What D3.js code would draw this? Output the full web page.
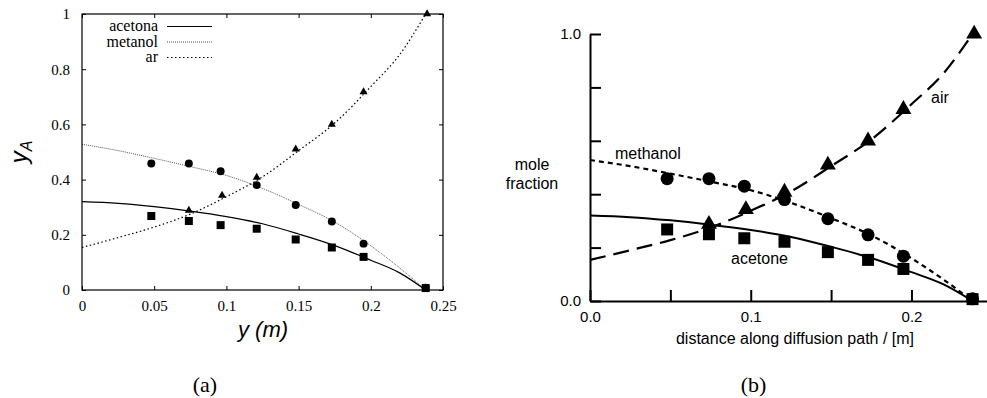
<!DOCTYPE html>
<html>
<head>
<meta charset="utf-8">
<script src="https://cdn.jsdelivr.net/npm/d3@7"></script>
<style>
    body { margin: 0; background: white; }
    svg { display: block; }
</style>
</head>
<body>
<svg id="chart" width="987" height="398"></svg>
<script>
// fitted model curves
const curveX = [0, 0.025, 0.05, 0.075, 0.1, 0.125, 0.15, 0.175, 0.2, 0.22, 0.238]
const acetoneCurve = [0.32, 0.314, 0.302, 0.286, 0.266, 0.24, 0.203, 0.161, 0.108, 0.062, 0]
const methanolCurve = [0.528, 0.505, 0.477, 0.447, 0.415, 0.368, 0.31, 0.246, 0.16, 0.08, 0]
const airCurve = [0.154, 0.19, 0.228, 0.275, 0.338, 0.41, 0.505, 0.605, 0.737, 0.853, 1.0]

// measured points
const pointX = [0.048, 0.074, 0.096, 0.121, 0.148, 0.173, 0.195, 0.238]
const acetonePts = [0.268, 0.25, 0.235, 0.222, 0.183, 0.154, 0.12, 0.007]
const methanolPts = [0.458, 0.458, 0.43, 0.38, 0.308, 0.248, 0.168, 0.008]
const airX = [0.074, 0.097, 0.121, 0.148, 0.173, 0.195, 0.239]
const airPts = [0.288, 0.343, 0.408, 0.51, 0.6, 0.718, 1.0]

// tick values and labels
const lxTicks = [0, 0.05, 0.1, 0.15, 0.2, 0.25]
const lxTickLabels = ['0', '0.05', '0.1', '0.15', '0.2', '0.25']
const lyTicks = [0, 0.2, 0.4, 0.6, 0.8, 1]
const lyTickLabels = ['0', '0.2', '0.4', '0.6', '0.8', '1']
const rxTicks = [0, 0.05, 0.1, 0.15, 0.2]
const rxTickLabels = ['0.0', '', '0.1', '', '0.2']
const ryTicks = [0, 0.2, 0.4, 0.6, 0.8, 1]
const ryTickLabels = ['0.0', '', '', '', '', '1.0']

const legendNames = ['acetona', 'metanol', 'ar']

let lxScale, lyScale, rxScale, ryScale

const serif = '"Liberation Serif", "Times New Roman", serif'
const sans = '"Liberation Sans", Arial, sans-serif'

function createScales() {
    lxScale = d3.scaleLinear().domain([0, 0.25]).range([82, 443])
    lyScale = d3.scaleLinear().domain([0, 1]).range([290, 14])
    rxScale = d3.scaleLinear().domain([0, 0.247]).range([590, 987])
    ryScale = d3.scaleLinear().domain([0, 1]).range([301, 34])
}

function zip(xs, ys) {
    return xs.map((x, i) => ({x: x, y: ys[i]}))
}

function drawLeft(svg) {
    let g = svg.append('g').attr('class', 'left')

    let line = d3.line()
        .x(d => lxScale(d.x))
        .y(d => lyScale(d.y))
        .curve(d3.curveMonotoneX)

    const leftStyles = [
        {stroke: 'black', width: 1.2, dash: null},
        {stroke: '#555', width: 1, dash: '1,1'},
        {stroke: 'black', width: 1.2, dash: '1.5,2.5'}
    ]
    const curves = [acetoneCurve, methanolCurve, airCurve]

    curves.forEach((c, i) => {
        g.append('path')
            .datum(zip(curveX, c))
            .attr('d', line)
            .attr('fill', 'none')
            .attr('stroke', leftStyles[i].stroke)
            .attr('stroke-width', leftStyles[i].width)
            .attr('stroke-dasharray', leftStyles[i].dash)
    })

    // markers
    g.selectAll('.sq').data(zip(pointX, acetonePts)).enter().append('path')
        .attr('d', d3.symbol().type(d3.symbolSquare).size(64))
        .attr('transform', d => `translate(${lxScale(d.x)},${lyScale(d.y)})`)
    g.selectAll('.ci').data(zip(pointX, methanolPts)).enter().append('path')
        .attr('d', d3.symbol().type(d3.symbolCircle).size(50))
        .attr('transform', d => `translate(${lxScale(d.x)},${lyScale(d.y)})`)
    g.selectAll('.tr').data(zip(airX, airPts)).enter().append('path')
        .attr('d', d3.symbol().type(d3.symbolTriangle).size(28))
        .attr('transform', d => `translate(${lxScale(d.x)},${lyScale(d.y)})`)

    // axes, ticks inward on all four sides
    let xAxis = d3.axisBottom(lxScale).tickValues(lxTicks)
        .tickFormat((d, i) => lxTickLabels[i]).tickSizeInner(-4).tickSizeOuter(0).tickPadding(10)
    let yAxis = d3.axisLeft(lyScale).tickValues(lyTicks)
        .tickFormat((d, i) => lyTickLabels[i]).tickSizeInner(-4).tickSizeOuter(0).tickPadding(12)
    let xTop = d3.axisTop(lxScale).tickValues(lxTicks).tickFormat('').tickSizeInner(-4).tickSizeOuter(0)
    let yRight = d3.axisRight(lyScale).tickValues(lyTicks).tickFormat('').tickSizeInner(-4).tickSizeOuter(0)

    g.append('g').attr('transform', `translate(0,${lyScale(0)})`).call(xAxis)
    g.append('g').attr('transform', `translate(${lxScale(0)},0)`).call(yAxis)
    g.append('g').attr('transform', `translate(0,${lyScale(1)})`).call(xTop)
    g.append('g').attr('transform', `translate(${lxScale(0.25)},0)`).call(yRight)

    g.selectAll('.domain').remove()
    g.append('rect')
        .attr('x', lxScale(0)).attr('y', lyScale(1))
        .attr('width', lxScale(0.25) - lxScale(0))
        .attr('height', lyScale(0) - lyScale(1))
        .attr('fill', 'none').attr('stroke', 'black').attr('stroke-width', 1.2)

    g.selectAll('.tick text')
        .attr('font-family', serif).attr('font-size', 15).attr('fill', 'black')
    g.selectAll('.tick line').attr('stroke', 'black')

    // legend
    legendNames.forEach((name, i) => {
        let ly = 26.5 + i * 15.5
        g.append('text')
            .attr('x', 158).attr('y', ly + 4.5)
            .attr('text-anchor', 'end')
            .attr('font-family', serif).attr('font-size', 16)
            .text(name)
        g.append('line')
            .attr('x1', 167).attr('x2', 212)
            .attr('y1', ly).attr('y2', ly)
            .attr('stroke', leftStyles[i].stroke)
            .attr('stroke-width', leftStyles[i].width)
            .attr('stroke-dasharray', leftStyles[i].dash)
    })

    // axis titles
    let yl = g.append('text')
        .attr('transform', 'translate(27,152) rotate(-90)')
        .attr('text-anchor', 'middle')
        .attr('font-family', sans).attr('font-style', 'italic')
    yl.append('tspan').attr('font-size', 24).text('y')
    yl.append('tspan').attr('font-size', 16).attr('dy', 5).text('A')

    g.append('text')
        .attr('x', 263).attr('y', 337)
        .attr('text-anchor', 'middle')
        .attr('font-family', sans).attr('font-style', 'italic').attr('font-size', 22)
        .text('y (m)')

    g.append('text')
        .attr('x', 205).attr('y', 392)
        .attr('text-anchor', 'middle')
        .attr('font-family', serif).attr('font-size', 22)
        .text('(a)')
}

function drawRight(svg) {
    let g = svg.append('g').attr('class', 'right')

    let line = d3.line()
        .x(d => rxScale(d.x))
        .y(d => ryScale(d.y))
        .curve(d3.curveMonotoneX)

    const rightStyles = [
        {width: 2, dash: null},
        {width: 2.2, dash: '5,4'},
        {width: 2.2, dash: '16,8'}
    ]
    const curves = [acetoneCurve, methanolCurve, airCurve]

    curves.forEach((c, i) => {
        g.append('path')
            .datum(zip(curveX, c))
            .attr('d', line)
            .attr('fill', 'none')
            .attr('stroke', 'black')
            .attr('stroke-width', rightStyles[i].width)
            .attr('stroke-dasharray', rightStyles[i].dash)
    })

    g.selectAll('.sq').data(zip(pointX, acetonePts)).enter().append('path')
        .attr('d', d3.symbol().type(d3.symbolSquare).size(144))
        .attr('transform', d => `translate(${rxScale(d.x)},${ryScale(d.y)})`)
    g.selectAll('.ci').data(zip(pointX, methanolPts)).enter().append('path')
        .attr('d', d3.symbol().type(d3.symbolCircle).size(133))
        .attr('transform', d => `translate(${rxScale(d.x)},${ryScale(d.y)})`)
    g.selectAll('.tr').data(zip(airX, airPts)).enter().append('path')
        .attr('d', d3.symbol().type(d3.symbolTriangle).size(110))
        .attr('transform', d => `translate(${rxScale(d.x)},${ryScale(d.y)})`)

    let xAxis = d3.axisBottom(rxScale).tickValues(rxTicks)
        .tickFormat((d, i) => rxTickLabels[i]).tickSizeInner(-11).tickSizeOuter(0).tickPadding(10)
    let yAxis = d3.axisLeft(ryScale).tickValues(ryTicks)
        .tickFormat((d, i) => ryTickLabels[i]).tickSizeInner(-11).tickSizeOuter(0).tickPadding(9)

    g.append('g').attr('transform', `translate(0,${ryScale(0)})`).call(xAxis)
    g.append('g').attr('transform', `translate(${rxScale(0)},0)`).call(yAxis)

    g.selectAll('.domain').attr('stroke', 'black').attr('stroke-width', 2)
    g.selectAll('.tick line').attr('stroke', 'black').attr('stroke-width', 2)
    g.selectAll('.tick text')
        .attr('font-family', sans).attr('font-size', 15).attr('fill', 'black')

    // labels
    const labels = [
        {t: 'mole', x: 532, y: 170, a: 'middle'},
        {t: 'fraction', x: 532, y: 189, a: 'middle'},
        {t: 'methanol', x: 615, y: 159, a: 'start'},
        {t: 'air', x: 931, y: 103, a: 'start'},
        {t: 'acetone', x: 731, y: 264, a: 'start'},
        {t: 'distance along diffusion path / [m]', x: 795, y: 344, a: 'middle'}
    ]
    g.selectAll('.lab').data(labels).enter().append('text')
        .attr('x', d => d.x).attr('y', d => d.y)
        .attr('text-anchor', d => d.a)
        .attr('font-family', sans).attr('font-size', 16)
        .text(d => d.t)

    g.append('text')
        .attr('x', 753.5).attr('y', 392)
        .attr('text-anchor', 'middle')
        .attr('font-family', serif).attr('font-size', 22)
        .text('(b)')
}

createScales()
let svg = d3.select('#chart')
drawLeft(svg)
drawRight(svg)
</script>
</body>
</html>
